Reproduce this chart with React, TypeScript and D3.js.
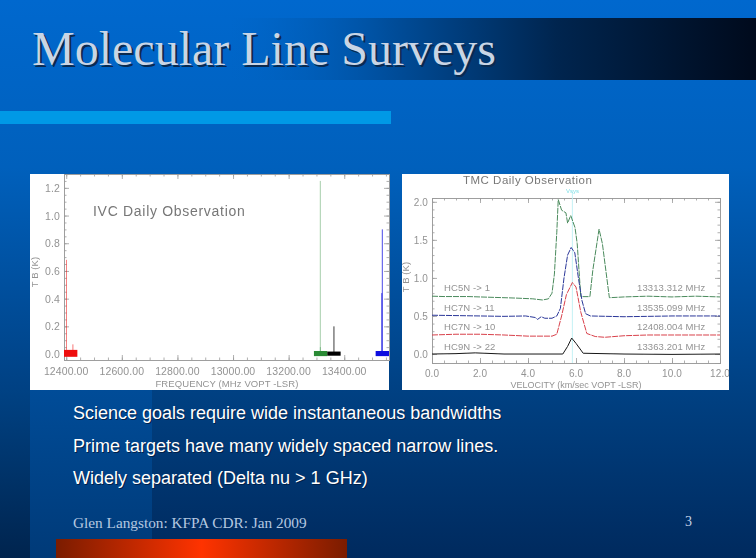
import { useEffect, useRef } from "react";
import * as d3 from "d3";

// left panel: IVC spectra, each one a noise band and its line spikes
const ivcChannels = ["red", "green", "black", "blue"];
const ivcBandFreq = [[12392, 12440], [13291, 13339], [13339, 13387], [13513, 13561]];
const ivcBandTemp = [[-0.02, 0.03], [-0.015, 0.022], [-0.012, 0.018], [-0.015, 0.022]];
const ivcSpikes = [
  { channel: "red", freq: 12401, temp: 0.68 },
  { channel: "red", freq: 12424, temp: 0.07 },
  { channel: "green", freq: 13314, temp: 1.25 },
  { channel: "green", freq: 13314, temp: 0.05 },
  { channel: "black", freq: 13363, temp: 0.2 },
  { channel: "blue", freq: 13537, temp: 0.9 },
  { channel: "blue", freq: 13535, temp: 0.44 },
];
const ivcFreqTicks = [12400, 12600, 12800, 13000, 13200, 13400];
const ivcTempTicks = [0, 0.2, 0.4, 0.6, 0.8, 1.0, 1.2];

// right panel: TMC spectra, velocity (km/s) and temperature (K)
const hc5nV = [0, 0.5, 1.5, 2.5, 3.5, 4.2, 4.6, 4.85, 5.0, 5.1, 5.2, 5.26, 5.4, 5.58, 5.65, 5.78, 5.96, 6.05, 6.2, 6.58, 6.7, 6.96, 7.1, 7.39, 8, 9, 10, 11, 12];
const hc5nT = [0.76, 0.755, 0.755, 0.745, 0.735, 0.725, 0.71, 0.725, 0.8, 1.05, 1.6, 2.03, 1.89, 1.855, 1.72, 1.82, 1.66, 1.45, 0.754, 0.754, 1.1, 1.64, 1.45, 0.74, 0.75, 0.76, 0.75, 0.76, 0.75];
const hc7n11V = [0, 1, 2, 3, 3.9, 4.3, 4.4, 4.55, 4.7, 5.0, 5.2, 5.35, 5.5, 5.65, 5.8, 5.95, 6.1, 6.25, 6.4, 6.6, 8, 10, 12];
const hc7n11T = [0.51, 0.505, 0.5, 0.495, 0.5, 0.48, 0.455, 0.49, 0.47, 0.47, 0.5, 0.6, 1.0, 1.3, 1.4, 1.33, 1.0, 0.7, 0.53, 0.5, 0.49, 0.5, 0.5];
const hc7n10V = [0, 1, 2, 3, 4, 5, 5.2, 5.4, 5.6, 5.85, 6.0, 6.2, 6.45, 6.8, 7.2, 8, 9, 10, 12];
const hc7n10T = [0.25, 0.26, 0.26, 0.25, 0.235, 0.235, 0.26, 0.5, 0.78, 0.94, 0.88, 0.55, 0.27, 0.23, 0.22, 0.24, 0.25, 0.25, 0.25];
const hc9nV = [0, 1, 1.8, 3, 5.0, 5.45, 5.65, 5.82, 6, 6.3, 8, 10, 12];
const hc9nT = [0, 0.005, 0.015, 0, 0, 0, 0.1, 0.21, 0.14, 0.01, 0, -0.005, 0];

const tmcV = [hc5nV, hc7n11V, hc7n10V, hc9nV];
const tmcT = [hc5nT, hc7n11T, hc7n10T, hc9nT];
const tmcNames = ["HC5N -> 1", "HC7N -> 11", "HC7N -> 10", "HC9N -> 22"];
const tmcFreqs = ["13313.312 MHz", "13535.099 MHz", "12408.004 MHz", "13363.201 MHz"];
const tmcLabelTemp = [0.88, 0.62, 0.37, 0.105];
const tmcColors = ["#4a8a5c", "#2a3698", "#d8404a", "#181818"];
const tmcVelTicks = [0, 2, 4, 6, 8, 10, 12];
const tmcTempTicks = [0, 0.5, 1.0, 1.5, 2.0];
const vsys = 5.85;

const bullets = [
  "Science goals require wide instantaneous bandwidths",
  "Prime targets have many widely spaced narrow lines.",
  "Widely separated (Delta nu > 1 GHz)",
];

const channelColor = d3
  .scaleOrdinal<string, string>()
  .domain(ivcChannels)
  .range(["#ee1010", "#2c8a34", "#000000", "#1010e0"]);

const TICK_COLOR = "#9a9a9a";
const LABEL_COLOR = "#939393";
const SANS = "'Liberation Sans', sans-serif";
const SERIF = "'Liberation Serif', serif";

export default function App() {
  const svgRef = useRef<SVGSVGElement>(null);

  useEffect(() => {
    if (!svgRef.current) return;
    const svg = d3.select(svgRef.current);
    svg.selectAll("*").remove();

    const defs = svg.append("defs");

    const pageGrad = defs.append("linearGradient").attr("id", "page").attr("x2", 0).attr("y2", 1);
    pageGrad.append("stop").attr("offset", "0").attr("stop-color", "#0068ce");
    pageGrad.append("stop").attr("offset", "0.3").attr("stop-color", "#0060bc");
    pageGrad.append("stop").attr("offset", "0.72").attr("stop-color", "#003f80");
    pageGrad.append("stop").attr("offset", "1").attr("stop-color", "#002a5e");

    const stripGrad = defs.append("linearGradient").attr("id", "strip").attr("x2", 0).attr("y2", 1);
    stripGrad.append("stop").attr("offset", "0").attr("stop-color", "#004c98");
    stripGrad.append("stop").attr("offset", "1").attr("stop-color", "#003a78");

    const edgeGrad = defs.append("linearGradient").attr("id", "edge").attr("x2", 0).attr("y2", 1);
    edgeGrad.append("stop").attr("offset", "0").attr("stop-color", "#004284");
    edgeGrad.append("stop").attr("offset", "1").attr("stop-color", "#00244e");

    const barGrad = defs.append("linearGradient").attr("id", "titlebar");
    barGrad.append("stop").attr("offset", "0").attr("stop-color", "#0060bc").attr("stop-opacity", 0);
    barGrad.append("stop").attr("offset", "0.3").attr("stop-color", "#004e9c");
    barGrad.append("stop").attr("offset", "0.62").attr("stop-color", "#00254f");
    barGrad.append("stop").attr("offset", "1").attr("stop-color", "#000a1c");

    const redGrad = defs.append("linearGradient").attr("id", "redbar");
    redGrad.append("stop").attr("offset", "0").attr("stop-color", "#7a1c00");
    redGrad.append("stop").attr("offset", "0.5").attr("stop-color", "#ff3300");
    redGrad.append("stop").attr("offset", "1").attr("stop-color", "#7a1c00");

    defs.append("filter").attr("id", "soft").append("feGaussianBlur").attr("stdDeviation", 0.5);
    defs
      .append("clipPath")
      .attr("id", "rightPanel")
      .append("rect")
      .attr("x", 402)
      .attr("y", 174)
      .attr("width", 327)
      .attr("height", 216);

    // Slide background
    svg.append("rect").attr("width", 756).attr("height", 558).attr("fill", "url(#page)");
    svg.append("rect").attr("x", 0).attr("y", 390).attr("width", 30).attr("height", 168).attr("fill", "url(#edge)");
    svg.append("rect").attr("x", 30).attr("y", 390).attr("width", 122).attr("height", 168).attr("fill", "url(#strip)");
    svg.append("rect").attr("x", 230).attr("y", 18).attr("width", 526).attr("height", 62).attr("fill", "url(#titlebar)");
    svg.append("rect").attr("x", 0).attr("y", 111).attr("width", 391).attr("height", 13).attr("fill", "#0099e6");
    svg.append("rect").attr("x", 56).attr("y", 539).attr("width", 291).attr("height", 19).attr("fill", "url(#redbar)");

    // Title
    svg
      .append("text")
      .attr("x", 32)
      .attr("y", 65)
      .attr("font-family", SERIF)
      .attr("font-size", 48)
      .attr("fill", "#c9d5e5")
      .style("text-shadow", "2px 2px 0 #0a2a50")
      .text("Molecular Line Surveys");

    // Frame with mirrored ticks on all four sides
    const drawFrame = (
      g: d3.Selection<SVGGElement, unknown, null, undefined>,
      x: d3.ScaleLinear<number, number>,
      y: d3.ScaleLinear<number, number>,
      xMajor: number[],
      xMinor: number[],
      yMajor: number[],
      yMinor: number[]
    ) => {
      const [x0, x1] = x.range();
      const [y0, y1] = y.range();
      const sides = [
        { axis: d3.axisBottom(x), pos: `translate(0,${y0})`, vertical: false },
        { axis: d3.axisTop(x), pos: `translate(0,${y1})`, vertical: false },
        { axis: d3.axisLeft(y), pos: `translate(${x0},0)`, vertical: true },
        { axis: d3.axisRight(y), pos: `translate(${x1},0)`, vertical: true },
      ];
      sides.forEach((s) => {
        const major = s.vertical ? yMajor : xMajor;
        const minor = s.vertical ? yMinor : xMinor;
        [
          { values: minor, size: 2.5 },
          { values: major, size: 5 },
        ].forEach((t) => {
          const a = g
            .append("g")
            .attr("transform", s.pos)
            .call(s.axis.tickValues(t.values).tickSize(-t.size).tickFormat(() => ""));
          a.selectAll("path").attr("stroke", TICK_COLOR).attr("stroke-width", 0.8);
          a.selectAll("line").attr("stroke", TICK_COLOR).attr("stroke-width", 0.8);
        });
      });
    };

    const tickText = (
      g: d3.Selection<SVGGElement, unknown, null, undefined>,
      px: number,
      py: number,
      label: string,
      anchor: string
    ) =>
      g
        .append("text")
        .attr("x", px)
        .attr("y", py)
        .attr("text-anchor", anchor)
        .attr("font-family", SANS)
        .attr("font-size", 10.5)
        .attr("letter-spacing", 0.1)
        .attr("fill", LABEL_COLOR)
        .text(label);

    // Left panel
    svg.append("rect").attr("x", 30).attr("y", 174).attr("width", 359).attr("height", 216).attr("fill", "#fff");
    const left = svg.append("g").attr("filter", "url(#soft)");
    const xIvc = d3.scaleLinear().domain([12392, 13561]).range([64, 389]);
    const yIvc = d3.scaleLinear().domain([-0.043, 1.3]).range([360, 174]);
    drawFrame(
      left,
      xIvc,
      yIvc,
      ivcFreqTicks,
      d3.range(12400, 13561, 50),
      ivcTempTicks,
      d3.range(0, 1.3, 0.05)
    );

    ivcSpikes.forEach((d) => {
      left
        .append("line")
        .attr("x1", xIvc(d.freq))
        .attr("x2", xIvc(d.freq))
        .attr("y1", yIvc(0))
        .attr("y2", yIvc(d.temp))
        .attr("stroke", channelColor(d.channel))
        .attr("stroke-width", 0.9)
        .attr("opacity", d.channel === "green" ? 0.45 : d.channel === "red" ? 0.6 : 0.85);
    });
    ivcChannels.forEach((c, i) => {
      left
        .append("rect")
        .attr("x", xIvc(ivcBandFreq[i][0]))
        .attr("width", xIvc(ivcBandFreq[i][1]) - xIvc(ivcBandFreq[i][0]))
        .attr("y", yIvc(ivcBandTemp[i][1]))
        .attr("height", yIvc(ivcBandTemp[i][0]) - yIvc(ivcBandTemp[i][1]))
        .attr("fill", channelColor(c));
    });

    ivcFreqTicks.forEach((t) => tickText(left, xIvc(t), 375, t.toFixed(2), "middle"));
    ivcTempTicks.forEach((t) => tickText(left, 60, yIvc(t) + 4, t.toFixed(1), "end"));
    left
      .append("text")
      .attr("x", 93)
      .attr("y", 216)
      .attr("font-family", SANS)
      .attr("font-size", 14)
      .attr("letter-spacing", 0.7)
      .attr("fill", "#777")
      .text("IVC Daily Observation");
    tickText(left, 227, 387, "FREQUENCY (MHz VOPT -LSR)", "middle").attr("font-size", 9.5);
    tickText(left, 0, 0, "T B (K)", "middle")
      .attr("transform", "translate(38,272) rotate(-90)")
      .attr("font-size", 9.5);

    // Right panel
    svg.append("rect").attr("x", 402).attr("y", 174).attr("width", 327).attr("height", 216).attr("fill", "#fff");
    const right = svg.append("g").attr("clip-path", "url(#rightPanel)").append("g").attr("filter", "url(#soft)");
    const xTmc = d3.scaleLinear().domain([0, 12]).range([432, 720]);
    const yTmc = d3.scaleLinear().domain([-0.118, 2.05]).range([363, 198]);
    drawFrame(
      right,
      xTmc,
      yTmc,
      tmcVelTicks,
      d3.range(0, 12.01, 0.5),
      tmcTempTicks,
      d3.range(0, 2.01, 0.1)
    );

    right
      .append("line")
      .attr("x1", xTmc(vsys))
      .attr("x2", xTmc(vsys))
      .attr("y1", yTmc.range()[0])
      .attr("y2", 192)
      .attr("stroke", "#bdeff3")
      .attr("stroke-width", 0.9);
    right
      .append("text")
      .attr("x", xTmc(vsys))
      .attr("y", 193)
      .attr("text-anchor", "middle")
      .attr("font-family", SANS)
      .attr("font-size", 6)
      .attr("fill", "#7fdfe6")
      .text("Vsys");

    const line = d3
      .line<number>()
      .x((_, i) => i)
      .y((d) => d);
    tmcV.forEach((vel, s) => {
      line.x((_, i) => xTmc(vel[i])).y((d) => yTmc(d));
      right
        .append("path")
        .attr("d", line(tmcT[s]))
        .attr("fill", "none")
        .attr("stroke", tmcColors[s])
        .attr("stroke-width", 1)
        .attr("stroke-dasharray", s === 3 ? null : "6 1");
      tickText(right, 444, yTmc(tmcLabelTemp[s]) + 4, tmcNames[s], "start").attr("font-size", 9.5);
      tickText(right, 637, yTmc(tmcLabelTemp[s]) + 4, tmcFreqs[s], "start").attr("font-size", 9.5);
    });

    tmcVelTicks.forEach((t) => tickText(right, xTmc(t), 377, t.toFixed(1), "middle").attr("font-size", 10));
    tmcTempTicks.forEach((t) => tickText(right, 428, yTmc(t) + 4, t.toFixed(1), "end").attr("font-size", 10));
    right
      .append("text")
      .attr("x", 463)
      .attr("y", 184)
      .attr("font-family", SANS)
      .attr("font-size", 11.5)
      .attr("letter-spacing", 0.5)
      .attr("fill", "#777")
      .text("TMC Daily Observation");
    tickText(right, 576, 388, "VELOCITY (km/sec VOPT -LSR)", "middle").attr("font-size", 9).attr("letter-spacing", 0);
    tickText(right, 0, 0, "T B (K)", "middle")
      .attr("transform", "translate(409,277) rotate(-90)")
      .attr("font-size", 9.5);

    // Bullet lines
    const bulletY = d3.scaleLinear().domain([0, 2]).range([419, 484]);
    bullets.forEach((b, i) => {
      svg
        .append("text")
        .attr("x", 73)
        .attr("y", bulletY(i))
        .attr("font-family", SANS)
        .attr("font-size", 18)
        .attr("fill", "#fff")
        .style("text-shadow", "1px 1px 0 #00204a")
        .text(b);
    });

    // Footer
    svg
      .append("text")
      .attr("x", 73)
      .attr("y", 528)
      .attr("font-family", SERIF)
      .attr("font-size", 15.3)
      .attr("fill", "#b4c8e0")
      .text("Glen Langston:  KFPA CDR: Jan 2009");
    svg
      .append("text")
      .attr("x", 685)
      .attr("y", 526)
      .attr("font-family", SERIF)
      .attr("font-size", 14)
      .attr("fill", "#c4d4e8")
      .text("3");
  }, []);

  return (
    <svg
      ref={svgRef}
      width={756}
      height={558}
      viewBox="0 0 756 558"
      style={{ position: "fixed", left: 0, top: 0, display: "block" }}
    ></svg>
  );
}
